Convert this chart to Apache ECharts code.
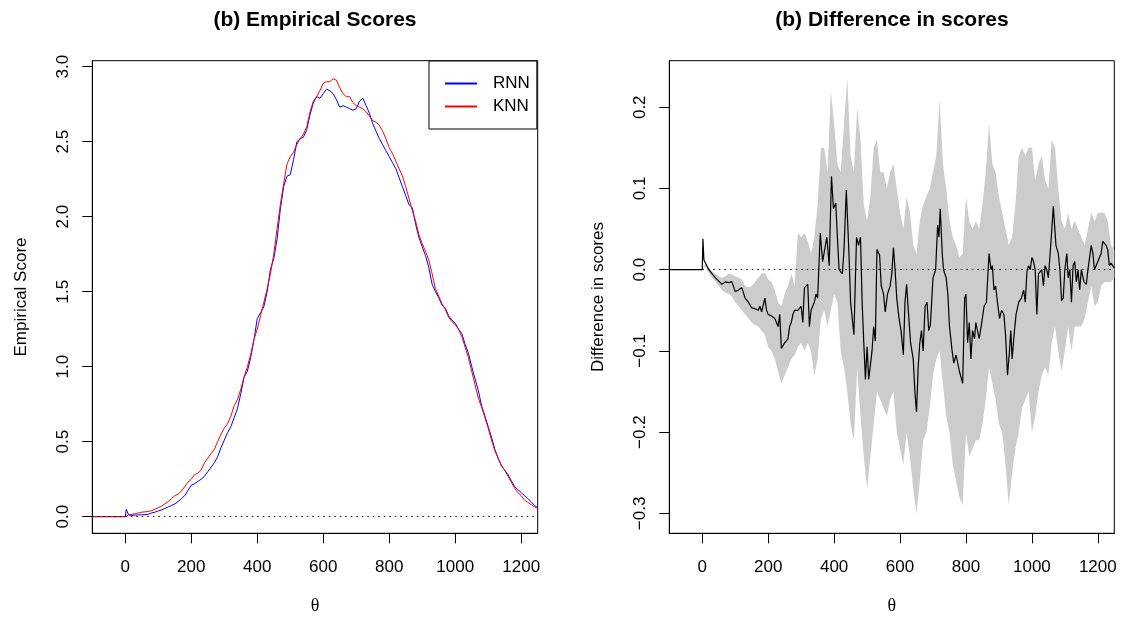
<!DOCTYPE html>
<html>
<head>
<meta charset="utf-8">
<script src="https://cdn.jsdelivr.net/npm/echarts@6/dist/echarts.min.js"></script>
<style>html,body{margin:0;padding:0;background:#fff;}#c{width:1123px;height:619px;}</style>
</head>
<body>
<div id="c"></div>
<script>
// ---- Left panel: empirical scores ----
const scoreTheta = [-100,0,3,10,20,30,40,50,60,70,80,90,100,110,120,130,140,150,160,170,180,190,200,210,220,230,240,250,260,270,280,290,300,310,320,330,340,350,360,370,380,390,400,410,420,430,440,450,460,470,480,490,500,510,520,530,540,550,560,570,580,590,600,610,620,630,640,650,660,670,680,690,700,710,720,730,740,750,760,770,780,790,800,810,820,830,840,850,860,870,880,890,900,910,920,930,940,950,960,970,980,990,1000,1010,1020,1030,1040,1050,1060,1070,1080,1090,1100,1110,1120,1130,1140,1150,1160,1170,1180,1190,1200,1210,1220,1230,1240,1250];
const rnnScore = [0,0,0.048,0.012,0.008,0.01,0.012,0.012,0.013,0.016,0.025,0.03,0.038,0.045,0.055,0.065,0.075,0.085,0.1,0.12,0.14,0.175,0.21,0.22,0.235,0.25,0.27,0.3,0.33,0.36,0.4,0.46,0.51,0.56,0.6,0.66,0.72,0.82,0.93,0.97,1.06,1.18,1.32,1.36,1.4,1.5,1.65,1.72,1.85,2.05,2.2,2.27,2.28,2.38,2.5,2.52,2.53,2.58,2.68,2.76,2.8,2.79,2.82,2.85,2.84,2.82,2.78,2.73,2.74,2.73,2.72,2.71,2.72,2.77,2.79,2.74,2.69,2.62,2.57,2.52,2.48,2.44,2.4,2.36,2.32,2.26,2.2,2.14,2.08,2.06,1.95,1.86,1.8,1.74,1.66,1.55,1.5,1.46,1.41,1.39,1.34,1.31,1.29,1.25,1.22,1.15,1.09,1.0,0.92,0.84,0.74,0.67,0.6,0.53,0.45,0.39,0.34,0.31,0.28,0.24,0.2,0.18,0.16,0.14,0.12,0.1,0.075,0.06];
const knnScore = [0,0,0.005,0.012,0.015,0.02,0.025,0.03,0.032,0.035,0.04,0.05,0.06,0.07,0.085,0.1,0.12,0.14,0.15,0.17,0.2,0.23,0.25,0.28,0.29,0.31,0.36,0.39,0.42,0.45,0.5,0.55,0.59,0.62,0.67,0.74,0.78,0.85,0.93,1.0,1.08,1.18,1.25,1.34,1.43,1.52,1.62,1.75,1.92,2.08,2.22,2.35,2.4,2.43,2.48,2.52,2.55,2.6,2.7,2.77,2.8,2.84,2.89,2.9,2.9,2.92,2.91,2.86,2.82,2.8,2.8,2.76,2.74,2.73,2.72,2.7,2.67,2.64,2.63,2.61,2.57,2.52,2.46,2.42,2.37,2.32,2.27,2.2,2.12,2.04,1.97,1.88,1.82,1.77,1.71,1.62,1.52,1.47,1.42,1.38,1.33,1.3,1.28,1.25,1.2,1.13,1.06,0.97,0.88,0.79,0.73,0.66,0.59,0.51,0.44,0.39,0.34,0.31,0.27,0.23,0.19,0.16,0.14,0.11,0.095,0.08,0.065,0.055];

// ---- Right panel: difference in scores ----
const diffTheta = [-100,0,2,5,10,20,30,40,50,60,70,80,90,95,100,110,120,130,140,150,160,170,175,180,190,195,200,210,220,230,235,240,250,260,265,270,275,280,290,300,305,310,320,325,330,340,345,350,358,365,370,378,385,392,398,405,410,415,425,430,437,445,450,460,468,474,480,485,490,495,500,505,515,520,525,530,538,543,550,555,562,570,575,580,585,590,597,603,610,615,620,625,632,640,645,650,655,660,665,670,676,682,687,692,700,708,714,718,722,728,732,740,745,750,758,763,770,780,790,796,800,805,810,815,820,826,830,840,846,855,862,870,876,880,885,890,897,902,908,915,920,926,932,936,940,946,952,960,968,975,980,985,990,995,1000,1005,1010,1015,1020,1030,1035,1040,1045,1050,1058,1065,1073,1080,1085,1090,1095,1100,1106,1110,1115,1120,1125,1130,1135,1140,1145,1150,1158,1165,1170,1180,1185,1190,1200,1210,1215,1225,1230,1235,1240,1250];
const diffValue = [0,0,0.038,0.012,0.008,0.0,-0.005,-0.01,-0.014,-0.018,-0.015,-0.016,-0.015,-0.017,-0.027,-0.025,-0.022,-0.035,-0.04,-0.047,-0.048,-0.05,-0.045,-0.052,-0.035,-0.05,-0.055,-0.057,-0.06,-0.07,-0.055,-0.097,-0.09,-0.085,-0.07,-0.065,-0.055,-0.05,-0.05,-0.045,-0.065,-0.022,-0.018,-0.07,-0.05,-0.04,-0.03,-0.035,0.045,0.01,0.012,0.04,0.005,0.115,0.075,0.082,0.04,0.0,-0.005,0.025,0.098,0.02,-0.04,-0.08,0.04,0.03,0.04,-0.04,-0.09,-0.135,-0.095,-0.135,-0.1,-0.07,-0.088,0.025,0.018,-0.02,-0.03,-0.052,-0.03,-0.02,-0.005,0.027,0.0,-0.035,-0.06,-0.075,-0.105,-0.04,-0.018,-0.05,-0.09,-0.11,-0.15,-0.175,-0.12,-0.09,-0.075,-0.1,-0.045,-0.04,-0.075,-0.068,-0.01,0.0,0.055,0.04,0.075,0.02,0.0,-0.01,-0.03,-0.07,-0.1,-0.115,-0.105,-0.125,-0.14,-0.035,-0.03,-0.09,-0.065,-0.11,-0.075,-0.085,-0.065,-0.085,-0.07,-0.045,-0.04,0.02,0.0,0.005,-0.025,-0.02,-0.045,-0.06,-0.05,-0.055,-0.08,-0.13,-0.1,-0.075,-0.11,-0.08,-0.055,-0.04,-0.035,-0.025,-0.04,-0.002,0.005,0.0,0.015,0.01,0.0,-0.055,-0.005,0.0,-0.02,0.005,0.0,-0.01,0.035,0.078,0.03,0.02,0.0,-0.038,-0.035,0.0,0.02,-0.01,0.0,-0.04,0.005,0.01,-0.015,0.0,-0.025,0.0,-0.015,-0.018,0.0,0.03,0.02,0.0,0.01,0.02,0.035,0.03,0.025,0.005,0.008,0.002];

const bandTheta = [0,10,20,30,40,50,60,70,80,90,100,110,120,130,140,150,160,170,180,190,200,210,220,230,240,250,260,270,280,290,300,310,320,330,340,350,360,370,380,390,400,410,420,430,440,450,460,470,480,490,500,510,520,530,540,550,560,570,580,590,600,610,620,630,640,650,660,670,680,690,700,710,720,730,740,750,760,770,780,790,800,810,820,830,840,850,860,870,880,890,900,910,920,930,940,950,960,970,980,990,1000,1010,1020,1030,1040,1050,1060,1070,1080,1090,1100,1110,1120,1130,1140,1150,1160,1170,1180,1190,1200,1210,1220,1230,1240,1250];
const bandUpper = [0,0.008,0.002,-0.002,-0.005,-0.008,-0.01,-0.008,-0.005,-0.006,-0.008,-0.01,-0.012,-0.02,-0.022,-0.02,-0.015,-0.01,-0.005,-0.004,-0.012,-0.015,-0.025,-0.04,-0.045,-0.03,-0.02,-0.005,-0.02,0.045,0.04,0.045,0.035,0.02,0.04,0.08,0.15,0.15,0.12,0.22,0.18,0.13,0.12,0.18,0.235,0.14,0.12,0.2,0.16,0.08,0.06,0.09,0.15,0.16,0.12,0.12,0.1,0.12,0.13,0.1,0.07,0.05,0.09,0.07,0.03,0.02,0.06,0.08,0.09,0.1,0.12,0.14,0.21,0.13,0.1,0.06,0.04,0.03,0.015,0.02,0.09,0.06,0.05,0.06,0.05,0.08,0.12,0.18,0.13,0.12,0.09,0.07,0.05,0.03,0.04,0.08,0.14,0.15,0.14,0.15,0.15,0.11,0.13,0.14,0.11,0.1,0.16,0.15,0.1,0.06,0.05,0.07,0.05,0.06,0.05,0.04,0.03,0.05,0.07,0.06,0.07,0.07,0.07,0.06,0.03,0.025];
const bandLower = [0,0.004,-0.004,-0.01,-0.015,-0.02,-0.025,-0.028,-0.03,-0.033,-0.04,-0.045,-0.05,-0.055,-0.06,-0.065,-0.068,-0.07,-0.075,-0.08,-0.095,-0.1,-0.11,-0.125,-0.14,-0.13,-0.12,-0.11,-0.105,-0.095,-0.09,-0.1,-0.09,-0.1,-0.13,-0.11,-0.06,-0.05,-0.07,-0.05,-0.03,-0.04,-0.1,-0.12,-0.15,-0.19,-0.21,-0.12,-0.18,-0.23,-0.27,-0.23,-0.19,-0.15,-0.16,-0.17,-0.18,-0.16,-0.15,-0.2,-0.22,-0.24,-0.2,-0.23,-0.27,-0.3,-0.26,-0.21,-0.2,-0.17,-0.13,-0.11,-0.1,-0.14,-0.18,-0.2,-0.24,-0.26,-0.28,-0.29,-0.2,-0.23,-0.22,-0.21,-0.21,-0.19,-0.16,-0.12,-0.14,-0.16,-0.19,-0.2,-0.24,-0.29,-0.25,-0.22,-0.2,-0.17,-0.16,-0.15,-0.2,-0.18,-0.15,-0.13,-0.12,-0.13,-0.09,-0.07,-0.1,-0.125,-0.1,-0.07,-0.1,-0.07,-0.07,-0.07,-0.06,-0.04,-0.02,-0.045,-0.04,-0.02,-0.015,-0.015,-0.015,-0.01];

const xTicks = [0,200,400,600,800,1000,1200];
const scoreTicks = [0,0.5,1.0,1.5,2.0,2.5,3.0];
const diffTicks = [-0.3,-0.2,-0.1,0.0,0.1,0.2];

const FONT = '"Liberation Sans", Arial, sans-serif';
const zip = (a, b) => a.map((v, i) => [v, b[i]]);
const fmt = v => (v < 0 ? '\u2212' + Math.abs(v).toFixed(1) : v.toFixed(1));

function xAxisFor(gi) {
  return {
    gridIndex: gi, type: 'value', min: -100, max: 1250,
    name: '\u03b8', nameLocation: 'middle', nameGap: 64,
    nameTextStyle: { fontFamily: '"Liberation Serif", "DejaVu Serif", serif', fontSize: 18, color: '#000' },
    axisLine: { show: true, onZero: false, lineStyle: { color: '#000', width: 1 } },
    axisTick: { show: true, inside: false, length: 10, lineStyle: { color: '#000' }, customValues: xTicks },
    axisLabel: { show: true, margin: 26, fontSize: 17, fontFamily: FONT, color: '#000', customValues: xTicks, formatter: v => String(v) },
    splitLine: { show: false }
  };
}
function yAxisFor(gi, min, max, ticks, name, gap) {
  return {
    gridIndex: gi, type: 'value', min: min, max: max,
    name: name, nameLocation: 'middle', nameGap: gap,
    nameTextStyle: { fontFamily: FONT, fontSize: 17, color: '#000' },
    axisLine: { show: true, onZero: false, lineStyle: { color: '#000', width: 1 } },
    axisTick: { show: true, inside: false, length: 10, lineStyle: { color: '#000' }, customValues: ticks },
    axisLabel: { show: true, rotate: 90, margin: 20, fontSize: 17, fontFamily: FONT, color: '#000', customValues: ticks, formatter: fmt },
    splitLine: { show: false }
  };
}
const zeroLine = {
  silent: true, symbol: 'none', label: { show: false },
  lineStyle: { color: '#000', type: [1.5, 4], width: 1 },
  data: [{ yAxis: 0 }], animation: false
};

// band polygon: upper edge left->right, then lower edge right->left
const bandData = bandTheta.map((t, i) => [t, bandUpper[i], bandLower[i]]);

const chart = echarts.init(document.getElementById('c'), null, { renderer: 'canvas' });
chart.setOption({
  animation: false,
  backgroundColor: '#fff',
  textStyle: { fontFamily: FONT },
  graphic: [
    { type: 'text', x: 315, y: 20, style: { text: '(b) Empirical Scores', font: 'bold 21px ' + FONT, fill: '#000', textAlign: 'center', textVerticalAlign: 'middle' } },
    { type: 'text', x: 892, y: 20, style: { text: '(b) Difference in scores', font: 'bold 21px ' + FONT, fill: '#000', textAlign: 'center', textVerticalAlign: 'middle' } }
  ],
  grid: [
    { left: 92.3, right: 585.3, top: 60.7, bottom: 85.7, show: true, borderColor: '#000', borderWidth: 1, containLabel: false, outerBoundsMode: 'none' },
    { left: 669.3, right: 8.7, top: 60.7, bottom: 85.7, show: true, borderColor: '#000', borderWidth: 1, containLabel: false, outerBoundsMode: 'none' }
  ],
  xAxis: [xAxisFor(0), xAxisFor(1)],
  yAxis: [
    yAxisFor(0, -0.111, 3.04, scoreTicks, 'Empirical Score', 62),
    yAxisFor(1, -0.3245, 0.2573, diffTicks, 'Difference in scores', 62)
  ],
  legend: {
    left: 429, top: 61, orient: 'vertical', align: 'left',
    data: ['RNN', 'KNN'],
    borderColor: '#000', borderWidth: 1, borderRadius: 0, backgroundColor: '#fff',
    padding: [14, 7, 14, 15], itemWidth: 32, itemHeight: 14, itemGap: 6,
    itemStyle: { opacity: 0 },
    textStyle: { fontSize: 17, fontFamily: FONT, color: '#000', padding: [0, 0, 0, 11] },
    z: 10
  },
  series: [
    { name: 'zero0', type: 'line', xAxisIndex: 0, yAxisIndex: 0, data: [], markLine: zeroLine, z: 1 },
    { name: 'RNN', type: 'line', xAxisIndex: 0, yAxisIndex: 0, data: zip(scoreTheta, rnnScore), symbol: 'none', showSymbol: false, lineStyle: { color: '#0000ff', width: 1 }, itemStyle: { color: '#0000ff' }, z: 2 },
    { name: 'KNN', type: 'line', xAxisIndex: 0, yAxisIndex: 0, data: zip(scoreTheta, knnScore), symbol: 'none', showSymbol: false, lineStyle: { color: '#ff0000', width: 1 }, itemStyle: { color: '#ff0000' }, z: 3 },
    {
      name: 'band', type: 'custom', xAxisIndex: 1, yAxisIndex: 1, data: bandData, z: 1, silent: true,
      encode: { x: 0, y: [1, 2] },
      renderItem: function (params, api) {
        if (params.dataIndex !== 0) return null;
        const pts = [];
        for (let i = 0; i < bandData.length; i++) pts.push(api.coord([bandData[i][0], bandData[i][1]]));
        for (let i = bandData.length - 1; i >= 0; i--) pts.push(api.coord([bandData[i][0], bandData[i][2]]));
        return { type: 'polygon', shape: { points: pts }, style: { fill: '#cccccc', stroke: null } };
      }
    },
    { name: 'diff', type: 'line', xAxisIndex: 1, yAxisIndex: 1, data: zip(diffTheta, diffValue), symbol: 'none', showSymbol: false, lineStyle: { color: '#000', width: 1.2 }, markLine: zeroLine, z: 3 }
  ]
});
</script>
</body>
</html>
